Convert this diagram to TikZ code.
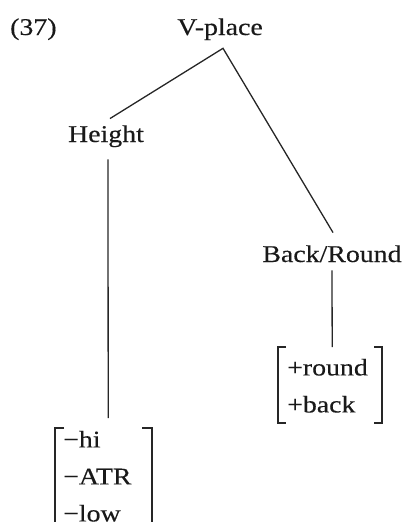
\documentclass[tikz,border=0pt]{standalone}
\usepackage{fontspec}
\setmainfont{Liberation Serif}[FakeStretch=1.16, FakeBold=0.3]
\usetikzlibrary{calc}
\begin{document}
\begin{tikzpicture}[x=1pt,y=-1pt,
  lbl/.style={inner sep=0pt, font=\fontsize{24}{37}\selectfont, text=black!90},
  feat/.style={lbl, align=left, anchor=north west},
  branch/.style={line width=1.3pt, black!85},
  brack/.style={line width=1.9pt, black!85}]
  \useasboundingbox (0,0) rectangle (406,522);
  \clip (0,0) rectangle (406,522);

  % example number and tree labels
  \node[lbl, anchor=base west] (num) at (10,35) {(37)};
  \node[lbl, anchor=base] (vplace) at (220,35) {V-place};
  \node[lbl, anchor=base] (height) at (106,142) {Height};
  \node[lbl, anchor=base] (backround) at (332,262) {Back/Round};

  % feature bundles
  \node[feat, text width=80pt] (lb) at (63,430.6) {−hi\\−ATR\\−low};
  \node[feat, text width=86pt] (rb) at (287,358.6) {+round\\+back};

  % branches
  \draw[branch] ($(height.north)+(4,-6.6)$) -- ($(vplace.south)+(3,8)$)
                -- ($(backround.north)+(1,-12.6)$);
  \draw[branch] ($(height.south)+(2,12)$) -- ($(lb.north)+(5,-12.6)$);
  \draw[branch] ($(backround.south)+(0,8)$) -- ($(rb.north)+(2,-11.6)$);

  % square brackets round the bundles
  \draw[brack] ($(lb.north west)+(1,-2.6)$) -- ++(-9,0) |- ($(lb.south west)+(1,10)$);
  \draw[brack] ($(lb.north east)+(-1,-2.6)$) -- ++(10,0) |- ($(lb.south east)+(-1,10)$);
  \draw[brack] ($(rb.north west)+(-1,-11.6)$) -- ++(-8,0) |- ($(rb.south west)+(-1,10)$);
  \draw[brack] ($(rb.north east)+(1,-11.6)$) -- ++(8,0) |- ($(rb.south east)+(1,10)$);
\end{tikzpicture}
\end{document}
